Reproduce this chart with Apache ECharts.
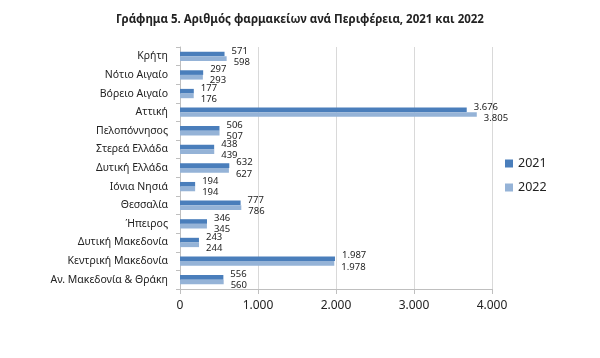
<!DOCTYPE html>
<html><head><meta charset="utf-8">
<script src="https://cdn.jsdelivr.net/npm/echarts@6/dist/echarts.min.js"></script>
<style>html,body{margin:0;padding:0;background:#fff}#c{width:600px;height:358px}</style>
</head><body><div id="c"></div>
<script>
const categories = ["Κρήτη","Νότιο Αιγαίο","Βόρειο Αιγαίο","Αττική","Πελοπόννησος","Στερεά Ελλάδα","Δυτική Ελλάδα","Ιόνια Νησιά","Θεσσαλία","Ήπειρος","Δυτική Μακεδονία","Κεντρική Μακεδονία","Αν. Μακεδονία & Θράκη"];
const values2021 = [571,297,177,3676,506,438,632,194,777,346,243,1987,556];
const values2022 = [598,293,176,3805,507,439,627,194,786,345,244,1978,560];
const seriesNames = ["2021","2022"];
const xTicks = [0,1000,2000,3000,4000];

const fmt = v => String(v).replace(/\B(?=(\d{3})+(?!\d))/g, '.');
const font = "'Noto Sans', 'Open Sans', sans-serif";
const chart = echarts.init(document.getElementById('c'));
chart.setOption({
  animation:false,
  title:{text:"Γράφημα 5. Αριθμός φαρμακείων ανά Περιφέρεια, 2021 και 2022",left:'center',top:9,
    textStyle:{fontFamily:font,fontSize:11.5,fontWeight:'bold',color:'#222'}},
  legend:{orient:'vertical',left:500,top:152,itemWidth:8,itemHeight:8,itemGap:11,icon:'rect',
    textStyle:{fontFamily:font,fontSize:12.5,color:'#222'},data:seriesNames},
  grid:{left:180,right:108,top:47,bottom:69},
  xAxis:{type:'value',min:xTicks[0],max:xTicks[xTicks.length-1],interval:1000,
    axisLine:{show:true,lineStyle:{color:'#bfbfbf'}},axisTick:{show:true,length:5,lineStyle:{color:'#bfbfbf'}},
    splitLine:{lineStyle:{color:'#d9d9d9'}},
    axisLabel:{fontFamily:font,fontSize:12,color:'#222',margin:11,formatter:v=>fmt(v)}},
  yAxis:{type:'category',data:categories,inverse:true,
    axisLine:{show:true,lineStyle:{color:'#bfbfbf'}},axisTick:{show:true,length:4,lineStyle:{color:'#bfbfbf'}},
    axisLabel:{fontFamily:font,fontSize:10.5,color:'#222',margin:12}},
  series:[
    {name:seriesNames[0],type:'bar',data:values2021,barGap:'0%',barCategoryGap:'50%',
     itemStyle:{color:'#4a7ebb'},
     label:{show:true,position:'right',distance:7,offset:[0,-3],fontFamily:font,fontSize:9.5,lineHeight:10,color:'#222',formatter:p=>fmt(p.value)}},
    {name:seriesNames[1],type:'bar',data:values2022,
     itemStyle:{color:'#95b3d7'},
     label:{show:true,position:'right',distance:7,offset:[0,3.5],fontFamily:font,fontSize:9.5,lineHeight:10,color:'#222',formatter:p=>fmt(p.value)}}
  ]
});
</script></body></html>
